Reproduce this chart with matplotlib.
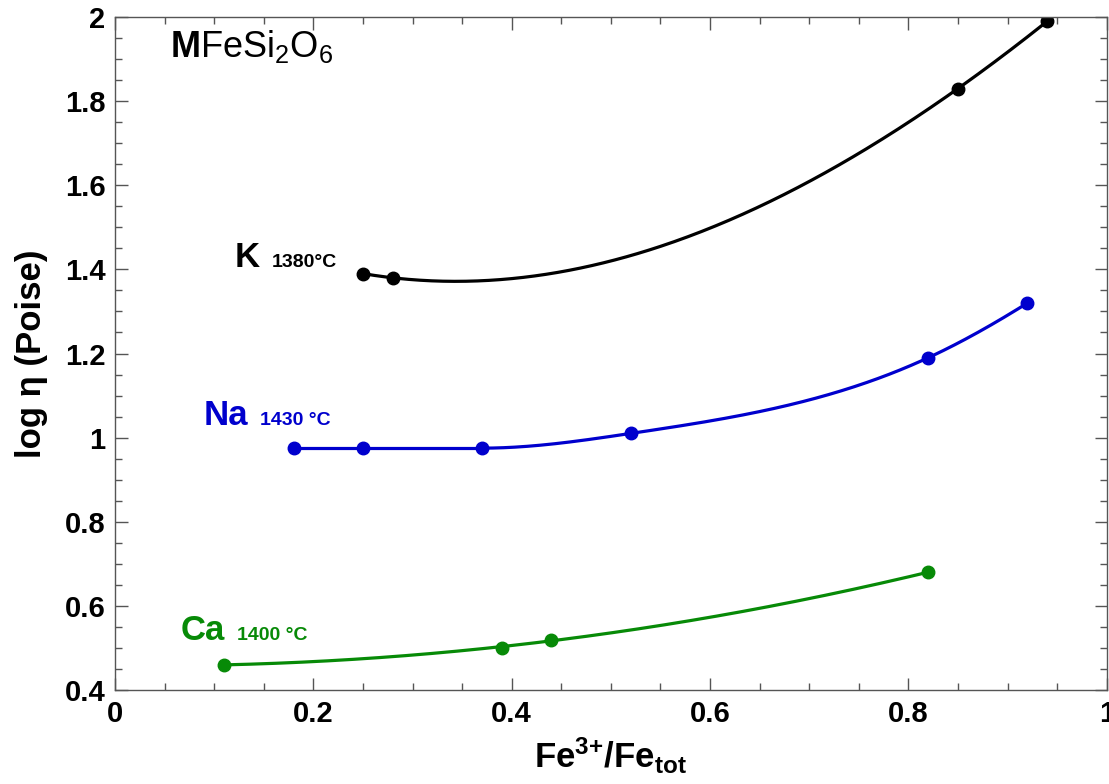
import numpy as np
import matplotlib
matplotlib.use("Agg")
import matplotlib.pyplot as plt
from matplotlib.ticker import MultipleLocator, FuncFormatter

plt.rcParams["font.family"] = ["Liberation Sans", "DejaVu Sans"]
plt.rcParams["mathtext.fontset"] = "custom"
plt.rcParams["mathtext.rm"] = "Liberation Sans"
plt.rcParams["mathtext.bf"] = "Liberation Sans:bold"
plt.rcParams["mathtext.it"] = "Liberation Sans:italic"

# Fe3+/Fetot vs log viscosity for the three MFeSi2O6 melts
k_x = [0.25, 0.28, 0.85, 0.94]
k_y = [1.39, 1.38, 1.83, 1.99]

na_x = [0.18, 0.25, 0.37, 0.52, 0.82, 0.92]
na_y = [0.975, 0.975, 0.975, 1.01, 1.19, 1.32]

ca_x = [0.11, 0.39, 0.44, 0.82]
ca_y = [0.46, 0.50, 0.52, 0.68]

c_k = "black"
c_na = "#0000cd"
c_ca = "#078a07"


def clamped_spline(x, y, xs, s0, s1):
    # cubic spline with fixed end slopes s0, s1
    x = np.asarray(x, float)
    y = np.asarray(y, float)
    n = len(x)
    h = np.diff(x)
    A = np.zeros((n, n))
    b = np.zeros(n)
    A[0, 0], A[0, 1] = 2 * h[0], h[0]
    b[0] = 3 * ((y[1] - y[0]) / h[0] - s0)
    A[-1, -2], A[-1, -1] = h[-1], 2 * h[-1]
    b[-1] = 3 * (s1 - (y[-1] - y[-2]) / h[-1])
    for i in range(1, n - 1):
        A[i, i - 1] = h[i - 1]
        A[i, i] = 2 * (h[i - 1] + h[i])
        A[i, i + 1] = h[i]
        b[i] = 3 * ((y[i + 1] - y[i]) / h[i] - (y[i] - y[i - 1]) / h[i - 1])
    c = np.linalg.solve(A, b)
    idx = np.clip(np.searchsorted(x, xs) - 1, 0, n - 2)
    bb = (y[1:] - y[:-1]) / h - h * (2 * c[:-1] + c[1:]) / 3
    d = (c[1:] - c[:-1]) / (3 * h)
    t = xs - x[idx]
    return y[idx] + bb[idx] * t + c[idx] * t**2 + d[idx] * t**3


fig = plt.figure(figsize=(11.09, 7.84), dpi=100)
ax = fig.add_axes([0.1037, 0.1199, 0.8943, 0.8584])

# K: cubic through the four points
xs = np.linspace(k_x[0], k_x[-1], 300)
ax.plot(xs, np.polyval(np.polyfit(k_x, k_y, 3), xs), color=c_k, lw=2.3)
ax.plot(k_x, k_y, "o", color=c_k, ms=9)

# Na: flat part drawn straight, spline from there on
# end slope taken from the parabola through the last three points
end_slope = np.polyval(np.polyder(np.polyfit(na_x[-3:], na_y[-3:], 2)), na_x[-1])
xs = np.linspace(na_x[2], na_x[-1], 300)
ax.plot(na_x[:3], na_y[:3], color=c_na, lw=2.3)
ax.plot(xs, clamped_spline(na_x[2:], na_y[2:], xs, 0.0, end_slope),
        color=c_na, lw=2.3)
ax.plot(na_x, na_y, "o", color=c_na, ms=9)

# Ca: quadratic fit
xs = np.linspace(ca_x[0], ca_x[-1], 300)
ax.plot(xs, np.polyval(np.polyfit(ca_x, ca_y, 2), xs), color=c_ca, lw=2.3)
ax.plot(ca_x, ca_y, "o", color=c_ca, ms=9)

ax.set_xlim(0, 1)
ax.set_ylim(0.4, 2)
ax.xaxis.set_major_locator(MultipleLocator(0.2))
ax.xaxis.set_minor_locator(MultipleLocator(0.05))
ax.yaxis.set_major_locator(MultipleLocator(0.2))
ax.yaxis.set_minor_locator(MultipleLocator(0.05))
fmt = FuncFormatter(lambda v, p: f"{v:g}")
ax.xaxis.set_major_formatter(fmt)
ax.yaxis.set_major_formatter(fmt)
ax.tick_params(which="both", direction="in", top=True, right=True,
               color="#555555", width=1)
ax.tick_params(which="major", length=9, labelsize=21, pad=7)
ax.tick_params(which="minor", length=5)
for lab in ax.get_xticklabels() + ax.get_yticklabels():
    lab.set_fontweight("bold")
for s in ax.spines.values():
    s.set_color("#555555")
    s.set_linewidth(1)

ax.set_xlabel(r"$\mathbf{Fe^{3{+}}/Fe_{tot}}$", fontsize=25, labelpad=6)
ax.set_ylabel("log η (Poise)", fontsize=25, fontweight="bold", labelpad=12)

ax.text(0.055, 1.905, r"$\mathbf{M}$FeSi$_2$O$_6$", fontsize=26)

ax.text(0.121, 1.406, "K", fontsize=25, fontweight="bold", color=c_k)
ax.text(0.158, 1.406, "1380°C", fontsize=14, fontweight="bold", color=c_k)
ax.text(0.089, 1.030, "Na", fontsize=25, fontweight="bold", color=c_na)
ax.text(0.146, 1.030, "1430 °C", fontsize=14, fontweight="bold", color=c_na)
ax.text(0.066, 0.519, "Ca", fontsize=25, fontweight="bold", color=c_ca)
ax.text(0.123, 0.519, "1400 °C", fontsize=14, fontweight="bold", color=c_ca)

fig.savefig("out.png", dpi=100)
